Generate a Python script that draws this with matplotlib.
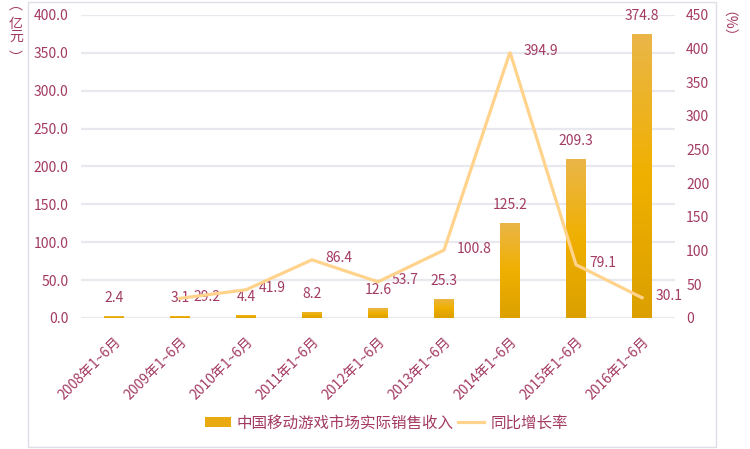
import matplotlib
matplotlib.use("Agg")
import matplotlib.pyplot as plt
import numpy as np
from matplotlib.colors import LinearSegmentedColormap
from matplotlib.patches import Rectangle, Patch
from matplotlib.lines import Line2D

plt.rcParams["font.family"] = ["Noto Sans CJK SC", "DejaVu Sans"]

TXT = "#A33A62"
GRID = "#E8E9EF"
LINE = "#FFD38C"
BAR = "#E8AA10"
FS = 10

periods = ["2008年1~6月", "2009年1~6月", "2010年1~6月", "2011年1~6月", "2012年1~6月",
           "2013年1~6月", "2014年1~6月", "2015年1~6月", "2016年1~6月"]
revenue = [2.4, 3.1, 4.4, 8.2, 12.6, 25.3, 125.2, 209.3, 374.8]
growth_periods = periods[1:]
growth = [29.2, 41.9, 86.4, 53.7, 100.8, 394.9, 79.1, 30.1]

bar_name = "中国移动游戏市场实际销售收入"
line_name = "同比增长率"

fig = plt.figure(figsize=(7.5, 4.49), dpi=100)
ax = fig.add_axes([0.108, 0.2918, 0.792, 0.6748])
ax2 = ax.twinx()

x = np.arange(len(periods))
gx = np.array([periods.index(p) for p in growth_periods])

# bars with a vertical gradient, dark at the base
cmap = LinearSegmentedColormap.from_list("g", ["#DBA000", "#F0B000", "#EAB648"])
grad = np.linspace(0, 1, 256).reshape(-1, 1)
bars = ax.bar(x, revenue, width=0.3, color="none", zorder=2)
for b in bars:
    x0, w, h = b.get_x(), b.get_width(), b.get_height()
    im = ax.imshow(grad, cmap=cmap, origin="lower", aspect="auto",
                   extent=(x0, x0 + w, 0, h), zorder=2)
    im.set_clip_path(b)
for xi, v in zip(x, revenue):
    ax.annotate(f"{v:.1f}", (xi, v), textcoords="offset points", xytext=(0, 8),
                ha="center", va="bottom", fontsize=FS, color=TXT)

ax.set_xlim(-0.5, len(periods) - 0.5)
ax.set_ylim(0, 400)
ax.set_yticks(np.arange(0, 401, 50))
ax.set_yticklabels([f"{t:.1f}" for t in np.arange(0, 401, 50)])
ax.yaxis.grid(True, color=GRID, lw=1.6, zorder=0)
ax.set_axisbelow(True)
ax.set_xticks(x)
ax.set_xticklabels(periods, rotation=45, ha="right", va="top",
                   rotation_mode="anchor")
ax.tick_params(axis="both", length=0, colors=TXT, labelsize=FS)
ax.tick_params(axis="y", pad=9)
ax.tick_params(axis="x", pad=12)

ax2.plot(gx, growth, color=LINE, lw=2.3, zorder=5, solid_joinstyle="miter")
for xi, v in zip(gx, growth):
    ax2.annotate(f"{v:.1f}", (xi, v), textcoords="offset points", xytext=(9.5, 1),
                 ha="left", va="center", fontsize=FS, color=TXT)
ax2.set_ylim(0, 450)
ax2.set_yticks(np.arange(0, 451, 50))
ax2.tick_params(axis="y", length=0, colors=TXT, labelsize=FS, pad=8)

for a in (ax, ax2):
    for s in a.spines.values():
        s.set_visible(False)


# unit labels, written vertically (positions in pixels from top-left)
def px(xp, yp):
    return xp / 750, 1 - yp / 449


fig.text(*px(16, 5.5), "︵", ha="center", va="center", fontsize=FS, color=TXT)
fig.text(*px(16, 24), "亿", ha="center", va="center", fontsize=FS, color=TXT)
fig.text(*px(16, 36.5), "元", ha="center", va="center", fontsize=FS, color=TXT)
fig.text(*px(16, 58), "︶", ha="center", va="center", fontsize=FS, color=TXT)
fig.text(*px(719.5, 31), "（%）", ha="center", va="center", fontsize=FS,
         color=TXT, rotation=-90)

# outer frame
fig.add_artist(Rectangle((28 / 750, 2 / 449), 688 / 750, 445 / 449,
                         transform=fig.transFigure, fill=False,
                         edgecolor="#DCDFE6", lw=1))

handles = [Patch(facecolor=BAR, edgecolor="none"),
           Line2D([0], [0], color=LINE, lw=2.3)]
fig.legend(handles, [bar_name, line_name], loc="center",
           bbox_to_anchor=(0.515, 0.058), ncol=2, frameon=False,
           fontsize=11.2, labelcolor=TXT, handlelength=1.67, handletextpad=0.38,
           columnspacing=0.3)

fig.savefig("out.png", dpi=100)
